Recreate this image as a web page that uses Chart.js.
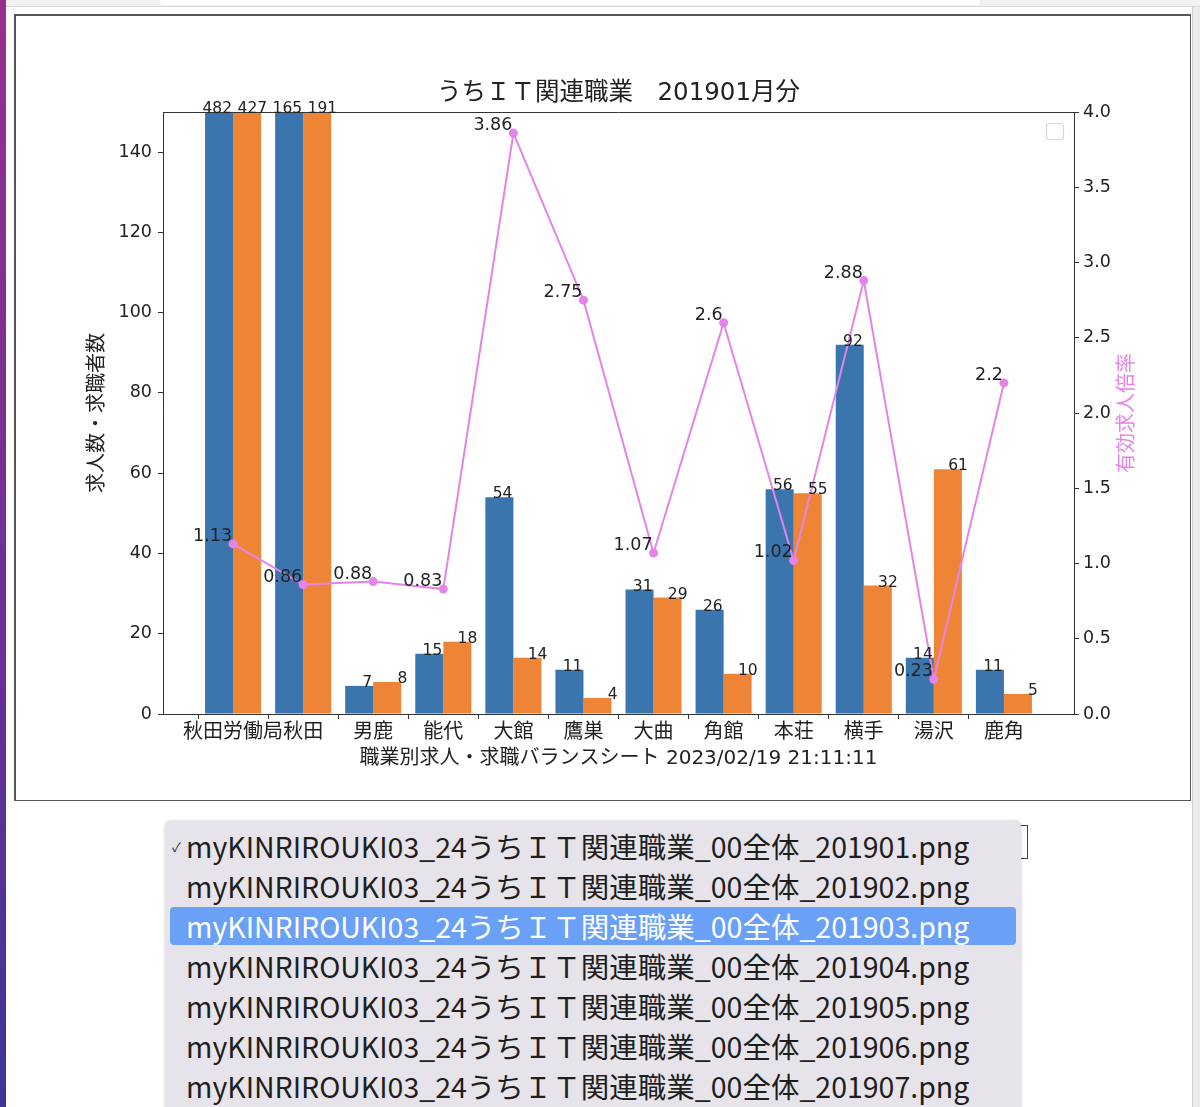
<!DOCTYPE html>
<html>
<head>
<meta charset="utf-8">
<script src="https://cdn.jsdelivr.net/npm/chart.js@4/dist/chart.umd.min.js"></script>
<style>
  html, body { margin: 0; padding: 0; background: #fff; }
  body { width: 1200px; height: 1107px; position: relative; overflow: hidden; font-family: "Noto Sans CJK JP", "Noto Sans", sans-serif; }
  #strip { position: absolute; left: 0; top: 0; width: 6px; height: 1107px; background: linear-gradient(#952f8e, #6a2f96 60%, #3d3598); }
  #topbar { position: absolute; left: 6px; top: 0; right: 0; height: 6px; background: #f1f1f1; border-bottom: 1px solid #dadada; }
  #topinput { position: absolute; left: 154px; top: 0; width: 820px; height: 5px; background: #fff; border-radius: 0 0 4px 4px; }
  #rightbar { position: absolute; left: 1192px; top: 7px; width: 8px; height: 1100px; background: #ececec; border-left: 1px solid #d2d2d2; }
  #frame { position: absolute; left: 14px; top: 14px; width: 1177px; height: 787px; box-sizing: border-box; border: 1px solid #555; border-top-width: 2px; border-left-width: 2px; background: #fff; }
  #wrap { position: absolute; left: 0; top: 0; width: 1173px; height: 784px; }
  #selectbox { position: absolute; left: 900px; top: 825px; width: 128px; height: 34px; box-sizing: border-box; border: 1px solid #444; background: #fff; }
  #popup { position: absolute; left: 165px; top: 821px; width: 856px; height: 320px; background: #e6e4ea; border-radius: 6px; box-shadow: 0 0 3px rgba(0,0,0,0.25); }
  .item { position: absolute; left: 5px; width: 846px; height: 38px; line-height: 38px; font-size: 28.5px; color: #1e1e1e; padding-left: 16px; box-sizing: border-box; white-space: nowrap; border-radius: 4px; }
  .item.sel { background: #6aa1f7; color: #fff; }
  .check { position: absolute; left: 2px; font-size: 13px; top: 1px; color: #333; }
</style>
</head>
<body>
<div id="strip"></div>
<div id="topbar"><div id="topinput"></div></div>
<div id="rightbar"></div>
<div id="frame"><div id="wrap"><canvas id="c"></canvas></div></div>
<div id="selectbox"></div>
<div id="popup"></div>
<script>
// ---- data ----
const categories = ['秋田労働局', '秋田', '男鹿', '能代', '大館', '鷹巣', '大曲', '角館', '本荘', '横手', '湯沢', '鹿角'];
const jobOffers  = [482, 165, 7, 15, 54, 11, 31, 26, 56, 92, 14, 11];
const jobSeekers = [427, 191, 8, 18, 14, 4, 29, 10, 55, 32, 61, 5];
const ratios     = [1.13, 0.86, 0.88, 0.83, 3.86, 2.75, 1.07, 2.6, 1.02, 2.88, 0.23, 2.2];
const leftTicks  = [0, 20, 40, 60, 80, 100, 120, 140];
const rightTicks = [0, 0.5, 1.0, 1.5, 2.0, 2.5, 3.0, 3.5, 4.0];
const chartTitle = 'うちＩＴ関連職業　201901月分';
const xTitle = '職業別求人・求職バランスシート 2023/02/19 21:11:11';
const yTitle = '求人数・求職者数';
const y2Title = '有効求人倍率';
const months = ['201901', '201902', '201903', '201904', '201905', '201906', '201907'];

// ---- dropdown ----
const popup = document.getElementById('popup');
months.forEach((m, i) => {
  const d = document.createElement('div');
  d.className = 'item' + (i === 2 ? ' sel' : '');
  d.style.top = (6 + i * 40) + 'px';
  d.textContent = 'myKINRIROUKI03_24うちＩＴ関連職業_00全体_' + m + '.png';
  if (i === 0) {
    const c = document.createElement('span');
    c.className = 'check';
    c.textContent = '✓';
    d.appendChild(c);
  }
  popup.appendChild(d);
});

// ---- chart ----
const FONT = '"DejaVu Sans", "Noto Sans CJK JP", sans-serif';
Chart.defaults.font.family = FONT;
Chart.defaults.color = '#222';

const labels = [''].concat(categories, ['']);
const pad = arr => [null].concat(arr, [null]);
const BLUE = '#3a75ae', ORANGE = '#ee8536', VIOLET = '#e484e8';

const annot = {
  id: 'annot',
  afterDatasetsDraw(chart) {
    const ctx = chart.ctx, a = chart.chartArea;
    ctx.save();
    // title centred over the plot area
    ctx.fillStyle = '#222';
    ctx.font = '24.5px ' + FONT;
    ctx.textAlign = 'center';
    ctx.textBaseline = 'middle';
    ctx.fillText(chartTitle, (a.left + a.right) / 2, a.top - 18);
    // top spine
    ctx.strokeStyle = '#333'; ctx.lineWidth = 1;
    ctx.beginPath(); ctx.moveTo(a.left, a.top + 0.5); ctx.lineTo(a.right, a.top + 0.5); ctx.stroke();
    // bar value labels
    ctx.fillStyle = '#222';
    ctx.font = '15.5px ' + FONT;
    ctx.textAlign = 'right';
    ctx.textBaseline = 'alphabetic';
    [[1, -1], [2, 6]].forEach(([di, dx]) => {
      const meta = chart.getDatasetMeta(di);
      const vals = chart.data.datasets[di].data;
      meta.data.forEach((el, i) => {
        if (vals[i] == null) return;
        const y = Math.max(el.y, a.top);
        ctx.fillText(String(vals[i]), el.x + el.width / 2 + dx, y + 1);
      });
    });
    // ratio labels
    ctx.font = '17.5px ' + FONT;
    ctx.textAlign = 'right';
    const lm = chart.getDatasetMeta(0);
    const lv = chart.data.datasets[0].data;
    lm.data.forEach((el, i) => {
      if (lv[i] == null) return;
      ctx.fillText(String(lv[i]), el.x - 1, el.y - 3);
    });
    // right axis title
    ctx.save();
    ctx.translate(a.right + 54, (a.top + a.bottom) / 2);
    ctx.rotate(-Math.PI / 2);
    ctx.fillStyle = VIOLET;
    ctx.font = '20px ' + FONT;
    ctx.textAlign = 'center';
    ctx.textBaseline = 'middle';
    ctx.fillText(y2Title, 0, 0);
    ctx.restore();
    // empty legend frame
    ctx.strokeStyle = '#d6d6d6'; ctx.fillStyle = '#fff'; ctx.lineWidth = 1.2;
    const lx = a.right - 27.5, ly = a.top + 11.5, w = 17, h = 16, r = 3;
    ctx.beginPath();
    ctx.roundRect(lx, ly, w, h, r);
    ctx.fill(); ctx.stroke();
    ctx.restore();
  }
};

new Chart(document.getElementById('c'), {
  data: {
    labels: labels,
    datasets: [
      {
        type: 'line', label: '有効求人倍率', data: pad(ratios), yAxisID: 'y2', order: 0,
        borderColor: VIOLET, backgroundColor: VIOLET, borderWidth: 2,
        pointRadius: 4.5, pointBackgroundColor: VIOLET, pointBorderWidth: 0, tension: 0
      },
      {
        type: 'bar', label: '求人数', data: pad(jobOffers), yAxisID: 'y', order: 1,
        backgroundColor: BLUE, borderWidth: 0, categoryPercentage: 0.8, barPercentage: 1.0
      },
      {
        type: 'bar', label: '求職者数', data: pad(jobSeekers), yAxisID: 'y', order: 1,
        backgroundColor: ORANGE, borderWidth: 0, categoryPercentage: 0.8, barPercentage: 1.0
      }
    ]
  },
  options: {
    responsive: true,
    maintainAspectRatio: false,
    animation: false,
    devicePixelRatio: 1,
    layout: { padding: { top: 96, left: 0, right: 0, bottom: 0 } },
    plugins: {
      legend: { display: false },
      tooltip: { enabled: false },
      title: { display: false }
    },
    scales: {
      x: {
        type: 'category', offset: false,
        grid: {
          display: true, drawOnChartArea: false, drawTicks: true, tickLength: 5,
          tickColor: ctx => (ctx.tick && ctx.tick.label === '') ? 'rgba(0,0,0,0)' : '#333'
        },
        border: { color: '#333', width: 1 },
        ticks: { font: { size: 20 }, color: '#222', padding: 2, autoSkip: false, maxRotation: 0 },
        title: { display: true, text: xTitle, color: '#222', font: { size: 20 }, padding: { top: 0, bottom: 29 } },
        afterFit: s => { s.height = 86; }
      },
      y: {
        position: 'left', min: 0, max: 150,
        afterBuildTicks: s => { s.ticks = leftTicks.map(v => ({ value: v })); },
        grid: { display: true, drawOnChartArea: false, tickLength: 5, tickColor: '#333' },
        border: { color: '#333', width: 1 },
        ticks: { font: { size: 17.5 }, color: '#222', padding: 6 },
        title: { display: true, text: yTitle, color: '#222', font: { size: 20 }, padding: { top: 70, bottom: 0 } },
        afterFit: s => { s.width = 147; }
      },
      y2: {
        position: 'right', min: 0, max: 4,
        afterBuildTicks: s => { s.ticks = rightTicks.map(v => ({ value: v })); },
        grid: { display: true, drawOnChartArea: false, tickLength: 5, tickColor: '#333' },
        border: { color: '#333', width: 1 },
        ticks: { font: { size: 17.5 }, color: '#222', padding: 4, callback: v => Number(v).toFixed(1) },
        afterFit: s => { s.width = 115; }
      }
    }
  },
  plugins: [annot]
});
</script>
</body>
</html>
